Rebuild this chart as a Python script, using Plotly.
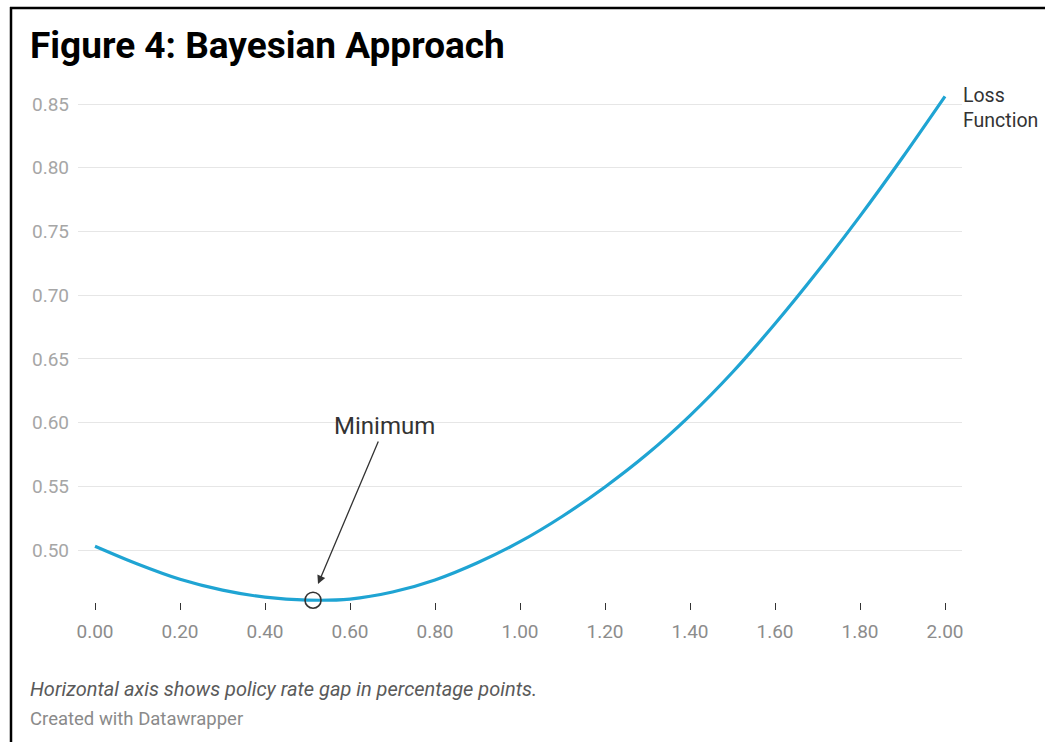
import plotly.graph_objects as go

# Data
gap_x = [0.0, 0.1, 0.2, 0.3, 0.4, 0.5, 0.6, 0.7, 0.8, 0.9, 1.0,
         1.1, 1.2, 1.3, 1.4, 1.5, 1.6, 1.7, 1.8, 1.9, 2.0]
loss_y = [0.503, 0.489, 0.477, 0.4685, 0.463, 0.4607, 0.4615, 0.467, 0.4765, 0.490, 0.5065,
          0.5265, 0.5495, 0.5755, 0.6055, 0.6395, 0.6775, 0.7185, 0.762, 0.808, 0.856]
min_x = [0.513]
min_y = [0.4606]
x_ticks = [0.0, 0.2, 0.4, 0.6, 0.8, 1.0, 1.2, 1.4, 1.6, 1.8, 2.0]
y_ticks = [0.50, 0.55, 0.60, 0.65, 0.70, 0.75, 0.80, 0.85]

# Layout geometry (pixels)
W, H = 1045, 742
L, R, T, B = 78, 962, 90, 602
pw, ph = R - L, B - T


def px_x(p):
    return (p - L) / pw


def px_y(p):
    return (B - p) / ph


FONT = "Roboto"
LINE_COLOR = "#1fa4d3"

fig = go.Figure()
fig.add_trace(go.Scatter(
    x=gap_x, y=loss_y, mode="lines",
    line=dict(color=LINE_COLOR, width=3.2, shape="spline", smoothing=0.8),
    hoverinfo="skip", showlegend=False))
fig.add_trace(go.Scatter(
    x=min_x, y=min_y, mode="markers", cliponaxis=False,
    marker=dict(symbol="circle-open", size=16, color="#333333", line=dict(width=1.6, color="#333333")),
    hoverinfo="skip", showlegend=False))

annotations = [
    dict(text="Figure 4: Bayesian Approach", xref="paper", yref="paper",
         x=px_x(28), y=px_y(45), xanchor="left", yanchor="middle", showarrow=False,
         font=dict(family=FONT, size=37, color="#000000", weight="bold")),
    dict(text="Loss<br>Function", xref="x", yref="y", x=gap_x[-1], y=loss_y[-1],
         xanchor="left", yanchor="middle", xshift=16, yshift=-12, showarrow=False, align="left",
         font=dict(family=FONT, size=19.5, color="#333333")),
    dict(text="Minimum", xref="x", yref="y", x=0.5247, y=0.4733,
         axref="x", ayref="y", ax=0.682, ay=0.5973, showarrow=True,
         arrowhead=2, arrowsize=1.3, arrowwidth=1.3, arrowcolor="#333333",
         font=dict(family=FONT, size=24, color="#333333")),
    dict(text="Horizontal axis shows policy rate gap in percentage points.", xref="paper", yref="paper",
         x=px_x(28), y=px_y(689), xanchor="left", yanchor="middle", showarrow=False,
         font=dict(family=FONT, size=20, color="#5a5a5a", style="italic")),
    dict(text="Created with Datawrapper", xref="paper", yref="paper",
         x=px_x(28), y=px_y(719), xanchor="left", yanchor="middle", showarrow=False,
         font=dict(family=FONT, size=18.5, color="#8a8a8a")),
]

shapes = [
    dict(type="line", xref="paper", yref="paper", x0=px_x(11), x1=px_x(11), y0=px_y(7), y1=px_y(745),
         line=dict(color="#000000", width=2.5)),
    dict(type="line", xref="paper", yref="paper", x0=px_x(10), x1=px_x(1050), y0=px_y(8), y1=px_y(8),
         line=dict(color="#000000", width=2.5)),
]

ppu_y = (550 - 104) / 0.35
ppu_x = (945 - 95) / 2.0

fig.update_layout(
    width=W, height=H, autosize=False,
    margin=dict(l=L, r=W - R, t=T, b=H - B, pad=0),
    paper_bgcolor="white", plot_bgcolor="white",
    font=dict(family=FONT),
    showlegend=False,
    annotations=annotations,
    shapes=shapes,
    xaxis=dict(
        range=[0 - (95 - L) / ppu_x, 2.0 + (R - 945) / ppu_x],
        tickvals=x_ticks, ticktext=[f"{v:.2f}" for v in x_ticks],
        ticks="outside", ticklen=7, tickwidth=1.4, tickcolor="#333333",
        showgrid=False, zeroline=False, showline=False,
        tickfont=dict(family=FONT, size=19, color="#8c8c8c"),
        ticklabelstandoff=5, fixedrange=True,
    ),
    yaxis=dict(
        range=[0.50 - (B - 550) / ppu_y, 0.85 + (104 - T) / ppu_y],
        tickvals=y_ticks, ticktext=[f"{v:.2f}" for v in y_ticks],
        ticks="", showgrid=True, gridcolor="#e6e6e6", gridwidth=1.3,
        zeroline=False, showline=False,
        tickfont=dict(family=FONT, size=19, color="#a6a6a6"),
        ticklabelstandoff=8, fixedrange=True,
    ),
)

fig.write_html("out.html", config={"displayModeBar": False})
